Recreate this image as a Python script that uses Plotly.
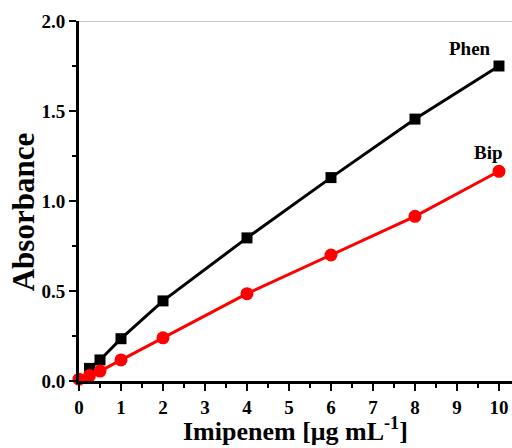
import plotly.graph_objects as go

phen_x = [0.25, 0.5, 1, 2, 4, 6, 8, 10]
phen_y = [0.07, 0.117, 0.235, 0.445, 0.795, 1.13, 1.455, 1.75]
bip_x = [0, 0.25, 0.5, 1, 2, 4, 6, 8, 10]
bip_y = [0.01, 0.03, 0.055, 0.117, 0.24, 0.485, 0.70, 0.915, 1.165]
x_ticks = list(range(0, 11))
y_ticks = [0, 0.5, 1.0, 1.5, 2.0]
y_labels = ["0.0", "0.5", "1.0", "1.5", "2.0"]

FONT = "Liberation Serif"

fig = go.Figure()
fig.add_trace(go.Scatter(x=phen_x, y=phen_y, mode="lines+markers",
                         line=dict(color="black", width=3),
                         marker=dict(symbol="square", size=11, color="black"),
                         cliponaxis=False, showlegend=False))
fig.add_trace(go.Scatter(x=bip_x, y=bip_y, mode="lines+markers",
                         line=dict(color="#ff0000", width=3),
                         marker=dict(symbol="circle", size=13, color="#ff0000"),
                         cliponaxis=False, showlegend=False))

fig.add_shape(type="line", xref="paper", yref="y", x0=0, x1=1, y0=2.0, y1=2.0,
              line=dict(color="#999999", width=1))

tickfont = dict(family=FONT, size=19, color="black")
fig.update_xaxes(range=[0, 10.31], showgrid=False, zeroline=False,
                 showline=True, linecolor="black", linewidth=3,
                 ticks="outside", ticklen=7, tickwidth=2, tickcolor="black",
                 tickvals=x_ticks, ticktext=[f"<b>{v}</b>" for v in x_ticks],
                 tickfont=tickfont,
                 minor=dict(tickvals=[i + 0.5 for i in range(10)], ticks="outside",
                            ticklen=4, tickwidth=2, tickcolor="black"))
fig.update_yaxes(range=[0, 2.0], showgrid=False, zeroline=False,
                 showline=True, linecolor="black", linewidth=3,
                 ticks="outside", ticklen=7, tickwidth=2, tickcolor="black",
                 tickvals=y_ticks, ticktext=[f"<b>{t}</b>" for t in y_labels],
                 tickfont=tickfont,
                 minor=dict(tickvals=[0.25, 0.75, 1.25, 1.75], ticks="outside",
                            ticklen=4, tickwidth=2, tickcolor="black"))

fig.add_annotation(text="<b>Absorbance</b>", xref="paper", yref="paper",
                   x=-0.129, y=0.469, xanchor="center", yanchor="middle",
                   textangle=-90, showarrow=False,
                   font=dict(family=FONT, size=31, color="black"))
fig.add_annotation(text="<b>Imipenem [μg mL<sup>-1</sup>]</b>", xref="paper", yref="paper",
                   x=0.499, y=-0.083, xanchor="center", yanchor="top",
                   showarrow=False, font=dict(family=FONT, size=26, color="black"))
fig.add_annotation(text="<b>Phen</b>", x=9.3, y=1.85, xref="x", yref="y",
                   showarrow=False, font=dict(family=FONT, size=19, color="black"))
fig.add_annotation(text="<b>Bip</b>", x=9.74, y=1.27, xref="x", yref="y",
                   showarrow=False, font=dict(family=FONT, size=19, color="black"))

fig.update_layout(width=512, height=448, margin=dict(l=79, r=0, t=21, b=67),
                  paper_bgcolor="white", plot_bgcolor="white",
                  font=dict(family=FONT, color="black"))
fig.write_html("out.html")
